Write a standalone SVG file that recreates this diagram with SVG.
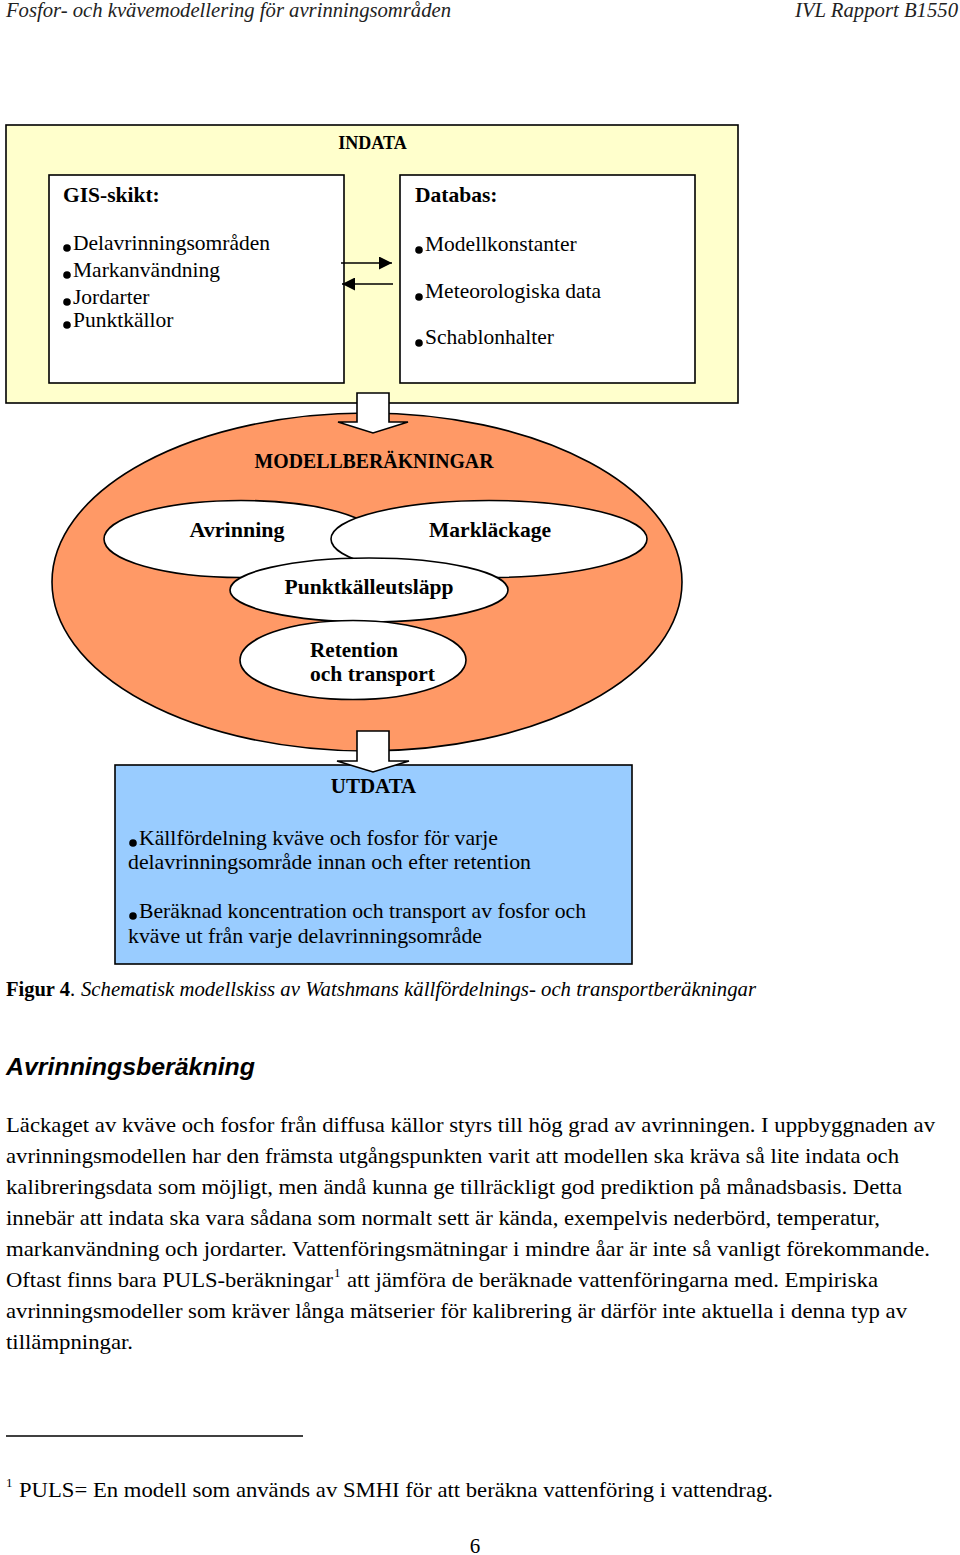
<svg xmlns="http://www.w3.org/2000/svg" width="960" height="1555" viewBox="0 0 960 1555">
<defs>
<style>
text{font-family:"Liberation Serif","Times New Roman",serif;fill:#000}
.hdr{font-style:italic;font-size:20px;fill:#222}
.b{font-weight:bold}
.t21{font-size:21.5px}
.box{stroke:#000;stroke-width:1.6}
.el{fill:#fff;stroke:#000;stroke-width:1.6}
.body{font-size:22px}
.sans{font-family:"Liberation Sans",Arial,sans-serif}
</style>
<marker id="ah" viewBox="0 0 10 10" refX="10" refY="5" markerWidth="15" markerHeight="13" markerUnits="userSpaceOnUse" orient="auto">
<path d="M0,0 L10,5 L0,10 z" fill="#000"/>
</marker>
</defs>
<rect width="960" height="1555" fill="#fff"/>

<text class="hdr" x="6" y="17" textLength="445" lengthAdjust="spacingAndGlyphs">Fosfor- och kvävemodellering för avrinningsområden</text>
<text class="hdr" x="958" y="17" text-anchor="end" textLength="163" lengthAdjust="spacingAndGlyphs">IVL Rapport B1550</text>

<g id="indata">
<rect class="box" x="6" y="125" width="732" height="278" fill="#FFFFCC"/>
<text class="b" x="372.5" y="149" font-size="18" text-anchor="middle">INDATA</text>
</g>

<g id="gis">
<rect class="box" x="49" y="175" width="295" height="208" fill="#fff"/>
<text class="b" x="63" y="202" font-size="21.5">GIS-skikt:</text>
<circle cx="67" cy="248" r="3.8"/>
<text class="t21" x="73" y="250">Delavrinningsområden</text>
<circle cx="67" cy="275" r="3.8"/>
<text class="t21" x="73" y="277">Markanvändning</text>
<circle cx="67" cy="302" r="3.8"/>
<text class="t21" x="73" y="304">Jordarter</text>
<circle cx="67" cy="325" r="3.8"/>
<text class="t21" x="73" y="327">Punktkällor</text>
</g>

<g id="databas">
<rect class="box" x="400" y="175" width="295" height="208" fill="#fff"/>
<text class="b" x="415" y="202" font-size="21.5">Databas:</text>
<circle cx="419" cy="250" r="3.8"/>
<text class="t21" x="425" y="251">Modellkonstanter</text>
<circle cx="419" cy="297" r="3.8"/>
<text class="t21" x="425" y="298">Meteorologiska data</text>
<circle cx="419" cy="343" r="3.8"/>
<text class="t21" x="425" y="344">Schablonhalter</text>
</g>

<g id="modell">
<ellipse cx="367" cy="582" rx="315" ry="169" fill="#FF9966" stroke="#000" stroke-width="1.6"/>
<text class="b" x="374" y="468" font-size="20" text-anchor="middle" textLength="239" lengthAdjust="spacingAndGlyphs">MODELLBERÄKNINGAR</text>
</g>

<g id="avrinning">
<ellipse class="el" cx="241" cy="539" rx="137" ry="38.5"/>
<text class="b t21" x="237" y="537" text-anchor="middle" textLength="95" lengthAdjust="spacingAndGlyphs">Avrinning</text>
</g>
<g id="marklackage">
<ellipse class="el" cx="489" cy="539" rx="158" ry="38.5"/>
<text class="b t21" x="490" y="537" text-anchor="middle" textLength="122" lengthAdjust="spacingAndGlyphs">Markläckage</text>
</g>
<g id="punkt">
<ellipse class="el" cx="369" cy="590" rx="139" ry="32"/>
<text class="b t21" x="369" y="594" text-anchor="middle" textLength="169" lengthAdjust="spacingAndGlyphs">Punktkälleutsläpp</text>
</g>
<g id="retention">
<ellipse class="el" cx="353" cy="660" rx="113" ry="39.5"/>
<text class="b t21" x="310" y="657" textLength="88" lengthAdjust="spacingAndGlyphs">Retention</text>
<text class="b t21" x="310" y="681" textLength="125" lengthAdjust="spacingAndGlyphs">och transport</text>
</g>

<g id="utdata">
<rect class="box" x="115" y="765" width="517" height="199" fill="#99CCFF"/>
<text class="b" x="373.5" y="793" font-size="21" text-anchor="middle">UTDATA</text>
<circle cx="133" cy="843" r="3.8"/>
<text class="t21" x="139" y="845" textLength="359" lengthAdjust="spacingAndGlyphs">Källfördelning kväve och fosfor för varje</text>
<text class="t21" x="128" y="869" textLength="403" lengthAdjust="spacingAndGlyphs">delavrinningsområde innan och efter retention</text>
<circle cx="133" cy="916" r="3.8"/>
<text class="t21" x="139" y="918" textLength="447" lengthAdjust="spacingAndGlyphs">Beräknad koncentration och transport av fosfor och</text>
<text class="t21" x="128" y="943" textLength="354" lengthAdjust="spacingAndGlyphs">kväve ut från varje delavrinningsområde</text>
</g>

<g id="connectors">
<line x1="341" y1="263" x2="392" y2="263" stroke="#000" stroke-width="1.6" marker-end="url(#ah)"/>
<line x1="393" y1="284" x2="342" y2="284" stroke="#000" stroke-width="1.6" marker-end="url(#ah)"/>
<polygon points="357,393 389,393 389,422 408,422 373,433 338,422 357,422" fill="#fff" stroke="#000" stroke-width="1.6"/>
<polygon points="357,731 389,731 389,761 409,761 373,772 337,761 357,761" fill="#fff" stroke="#000" stroke-width="1.6"/>
</g>

<text x="6" y="996" font-size="20.5"><tspan class="b">Figur 4</tspan>.</text>
<text x="81" y="996" font-size="20.5" font-style="italic" textLength="675" lengthAdjust="spacingAndGlyphs">Schematisk modellskiss av Watshmans källfördelnings- och transportberäkningar</text>

<text class="sans" x="6" y="1075" font-size="24" font-weight="bold" font-style="italic" textLength="249" lengthAdjust="spacingAndGlyphs">Avrinningsberäkning</text>

<g class="body">
<text class="body" x="6" y="1132" textLength="929" lengthAdjust="spacingAndGlyphs">Läckaget av kväve och fosfor från diffusa källor styrs till hög grad av avrinningen. I uppbyggnaden av</text>
<text class="body" x="6" y="1163" textLength="893" lengthAdjust="spacingAndGlyphs">avrinningsmodellen har den främsta utgångspunkten varit att modellen ska kräva så lite indata och</text>
<text class="body" x="6" y="1194" textLength="896" lengthAdjust="spacingAndGlyphs">kalibreringsdata som möjligt, men ändå kunna ge tillräckligt god prediktion på månadsbasis. Detta</text>
<text class="body" x="6" y="1225" textLength="874" lengthAdjust="spacingAndGlyphs">innebär att indata ska vara sådana som normalt sett är kända, exempelvis nederbörd, temperatur,</text>
<text class="body" x="6" y="1256" textLength="924" lengthAdjust="spacingAndGlyphs">markanvändning och jordarter. Vattenföringsmätningar i mindre åar är inte så vanligt förekommande.</text>
<text class="body" x="6" y="1287" textLength="327" lengthAdjust="spacingAndGlyphs">Oftast finns bara PULS-beräkningar</text>
<text x="334" y="1277" font-size="13">1</text>
<text class="body" x="347" y="1287" textLength="531" lengthAdjust="spacingAndGlyphs">att jämföra de beräknade vattenföringarna med. Empiriska</text>
<text class="body" x="6" y="1318" textLength="901" lengthAdjust="spacingAndGlyphs">avrinningsmodeller som kräver långa mätserier för kalibrering är därför inte aktuella i denna typ av</text>
<text class="body" x="6" y="1349" textLength="127" lengthAdjust="spacingAndGlyphs">tillämpningar.</text>
</g>

<line x1="6" y1="1436" x2="303" y2="1436" stroke="#000" stroke-width="1.3"/>
<text x="6" y="1487" font-size="13">1</text>
<text x="19" y="1497" font-size="21.5" textLength="754" lengthAdjust="spacingAndGlyphs">PULS= En modell som används av SMHI för att beräkna vattenföring i vattendrag.</text>
<text x="475" y="1553" font-size="21" text-anchor="middle">6</text>
</svg>
